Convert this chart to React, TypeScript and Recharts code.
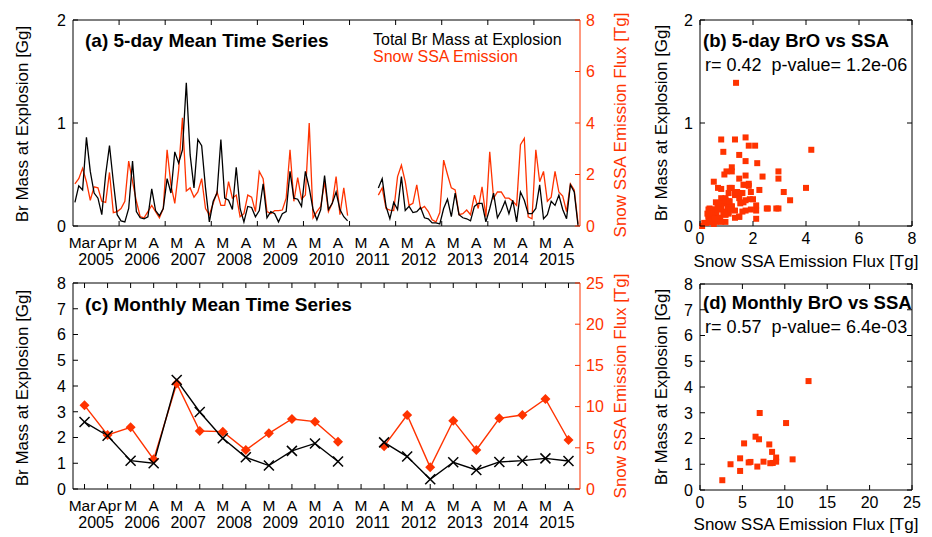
import React from 'react'
import { LineChart, Line, XAxis, YAxis, ReferenceLine, ScatterChart, Scatter } from 'recharts'

const RED = '#ff3300'
const FONT = "'Liberation Sans', Arial, Helvetica, sans-serif"

// x positions: Mar and Apr of each year 2005-2015
const monthLabels = ['Mar', 'Apr', 'M', 'A', 'M', 'A', 'M', 'A', 'M', 'A', 'M', 'A', 'M', 'A', 'M', 'A', 'M', 'A', 'M', 'A', 'M', 'A']
const yearLabels = ['2005', '2006', '2007', '2008', '2009', '2010', '2011', '2012', '2013', '2014', '2015']
const PENTADS = 6

// 5-day mean Br mass at explosion [Gg], 6 pentads per month
const brPentad: (number | null)[][] = [
  [0.23, 0.39, 0.35, 0.86, 0.53, 0.32],
  [0.27, 0.11, 0.5, 0.78, 0.43, 0.11],
  [0.05, 0.04, 0.17, 0.63, 0.14, 0.08],
  [0.07, 0.09, 0.36, 0.15, 0.1, 0.17],
  [0.46, 0.32, 0.72, 0.61, 0.74, 1.39],
  [0.69, 0.37, 0.84, 0.78, 0.37, 0.04],
  [0.24, 0.32, 0.84, 0.27, 0.25, 0.16],
  [0.57, 0.17, 0.04, 0.19, 0.18, 0.09],
  [0.15, 0.41, 0.08, 0.14, 0.12, 0.04],
  [0.12, 0.14, 0.53, 0.27, 0.26, 0.19],
  [0.53, 0.37, 0.16, 0.06, 0.16, 0.49],
  [0.16, 0.22, 0.33, 0.16, 0.09, 0.05],
  [null, null, null, null, null, null],
  [null, 0.37, 0.46, 0.19, 0.07, 0.23],
  [0.16, 0.48, 0.15, 0.19, 0.13, 0.14],
  [0.18, 0.08, 0.07, 0.03, 0.03, 0.02],
  [0.17, 0.26, 0.09, 0.32, 0.11, 0.08],
  [0.07, 0.05, 0.19, 0.22, 0.22, 0.04],
  [0.17, 0.32, 0.08, 0.15, 0.24, 0.12],
  [0.25, 0.04, 0.33, 0.25, 0.12, 0.12],
  [0.17, 0.4, 0.07, 0.11, 0.24, 0.2],
  [0.3, 0.16, 0.07, 0.4, 0.33, 0.0],
]

// 5-day snow SSA emission flux [Tg]
const ssaPentad: (number | null)[][] = [
  [1.64, 1.84, 2.24, 1.72, 1.0, 1.52],
  [1.48, 0.96, 0.92, 2.08, 0.52, 0.56],
  [0.68, 0.96, 2.52, 1.72, 0.96, 0.36],
  [0.32, 0.56, 0.8, 0.56, 0.32, 0.68],
  [2.96, 1.6, 0.88, 2.16, 4.2, 1.36],
  [1.48, 1.12, 1.32, 1.84, 0.68, 0.44],
  [0.88, 1.32, 0.8, 0.8, 1.72, 1.08],
  [1.2, 0.36, 0.48, 1.2, 1.12, 0.56],
  [2.12, 1.84, 0.56, 0.48, 0.6, 0.6],
  [0.62, 1.08, 2.96, 0.96, 1.88, 1.04],
  [1.2, 4.0, 0.32, 0.56, 0.76, 1.72],
  [0.56, 0.88, 1.92, 0.44, 1.48, 0.4],
  [null, null, null, null, null, null],
  [null, 1.2, 1.48, 0.68, 0.62, 0.6],
  [1.92, 2.36, 1.72, 0.8, 0.88, 1.6],
  [0.66, 0.76, 0.56, 0.24, 0.16, 0.52],
  [2.56, 2.0, 1.48, 1.4, 0.44, 0.48],
  [0.62, 0.44, 1.2, 0.68, 1.52, 0.36],
  [2.88, 1.08, 1.32, 1.32, 1.08, 1.08],
  [0.96, 0.8, 3.16, 3.4, 0.36, 0.28],
  [2.96, 1.72, 2.12, 0.96, 1.12, 2.12],
  [1.32, 1.16, 0.56, 1.64, 1.4, 0.08],
]

// monthly means
const brMonthly = [2.6, 2.07, 1.1, 1.0, 4.23, 2.99, 1.97, 1.23, 0.91, 1.48, 1.77, 1.07, null, 1.81, 1.26, 0.38, 1.04, 0.74, 1.05, 1.1, 1.19, 1.09]
const ssaMonthly = [10.15, 6.55, 7.49, 3.6, 12.8, 7.04, 6.96, 4.73, 6.76, 8.5, 8.17, 5.74, null, 5.2, 8.98, 2.63, 8.29, 4.73, 8.58, 8.98, 10.92, 5.95]

const pentadRows = monthLabels.flatMap((_, i) =>
  brPentad[i].map((br, k) => ({ t: i - 0.5 + (k + 0.5) / PENTADS, br, ssa: ssaPentad[i][k] }))
)
const monthRows = monthLabels.map((_, i) => ({ t: i, br: brMonthly[i], ssa: ssaMonthly[i] }))
const pentadPairs = pentadRows.filter(r => r.br != null && r.ssa != null).map(r => ({ x: r.ssa, y: r.br }))
const monthPairs = monthRows.filter(r => r.br != null && r.ssa != null).map(r => ({ x: r.ssa, y: r.br }))
const monthTicks = monthLabels.map((_, i) => i)

// layout
const TS_W = 660, TS_H = 280
const TS_M = { top: 20, right: 40, bottom: 9, left: 33 }
const Y_W = 40, X_H = 45
const TS_PW = TS_W - TS_M.left - TS_M.right - 2 * Y_W
const PH = TS_H - TS_M.top - TS_M.bottom - X_H
const SC_W = 282, SC_H = 280
const SC_M = { top: 20, right: 20, bottom: 9, left: 10 }
const SC_PW = SC_W - SC_M.left - SC_M.right - Y_W

const txt = { fontFamily: FONT, fontSize: 16 }
// the first two labels are spelled out and pushed apart a little, as in the original
const labelShift = (i: number) => (i === 0 ? -2.5 : i === 1 ? 2 : 0)

const MonthTick = (props: any) => {
  const { x, y, payload, yearMarks } = props
  const i = payload.value as number
  const step = TS_PW / monthLabels.length
  const marks = yearMarks ? (i % 2 === 1 && i < monthLabels.length - 1 ? [x + step / 2] : []) : [x]
  return (
    <g>
      {marks.map((mx: number) => (
        <g key={mx}>
          <line x1={mx} x2={mx} y1={y} y2={y - 5} stroke="#000" />
          <line x1={mx} x2={mx} y1={y - PH} y2={y - PH + 5} stroke="#000" />
        </g>
      ))}
      <text x={x + labelShift(i)} y={y + 22} textAnchor="middle" fill="#000" fontFamily={FONT} fontSize={15.5}>
        {monthLabels[i]}
      </text>
      {i % 2 === 0 && (
        <text x={x + step / 2} y={y + 39} textAnchor="middle" fill="#000" {...txt}>{yearLabels[i / 2]}</text>
      )}
    </g>
  )
}

const YTick = (props: any) => {
  const { x, y, payload, side, color, boxW } = props
  const c = color || '#000'
  if (side === 'right') {
    return (
      <g>
        <line x1={x - 5} x2={x} y1={y} y2={y} stroke={c} />
        <text x={x + 6} y={y} dy="0.36em" textAnchor="start" fill={c} {...txt}>{payload.value}</text>
      </g>
    )
  }
  return (
    <g>
      <line x1={x} x2={x + 5} y1={y} y2={y} stroke={c} />
      {boxW ? <line x1={x + boxW - 5} x2={x + boxW} y1={y} y2={y} stroke={c} /> : null}
      <text x={x - 7} y={y} dy="0.36em" textAnchor="end" fill={c} {...txt}>{payload.value}</text>
    </g>
  )
}

const XTick = (props: any) => {
  const { x, y, payload } = props
  return (
    <g>
      <line x1={x} x2={x} y1={y} y2={y - 5} stroke="#000" />
      <line x1={x} x2={x} y1={y - PH} y2={y - PH + 5} stroke="#000" />
      <text x={x} y={y + 18} textAnchor="middle" fill="#000" {...txt}>{payload.value}</text>
    </g>
  )
}

const Cross = (p: any) => {
  if (p.cy == null || p.value == null) return <g key={`c${p.index}`} />
  return (
    <g key={`c${p.index}`}>
      <line x1={p.cx - 5} x2={p.cx + 5} y1={p.cy - 5} y2={p.cy + 5} stroke="#000" strokeWidth={1.5} />
      <line x1={p.cx - 5} x2={p.cx + 5} y1={p.cy + 5} y2={p.cy - 5} stroke="#000" strokeWidth={1.5} />
    </g>
  )
}

const Diamond = (p: any) => {
  if (p.cy == null || p.value == null) return <g key={`d${p.index}`} />
  return <path key={`d${p.index}`} d={`M${p.cx},${p.cy - 5}L${p.cx + 5},${p.cy}L${p.cx},${p.cy + 5}L${p.cx - 5},${p.cy}Z`} fill={RED} />
}

const Square = (p: any) => <rect x={p.cx - 3} y={p.cy - 3} width={6} height={6} fill={RED} />

const abs = (left: number, top: number): React.CSSProperties => ({ position: 'absolute', left, top })

const HText = ({ x, y, size = 16, bold, color = '#000', children }: any) => (
  <div style={{ ...abs(x, y), transform: 'translateY(-50%)', whiteSpace: 'pre', fontFamily: FONT, fontSize: size, fontWeight: bold ? 700 : 400, color, lineHeight: `${size - 2}px` }}>
    {children}
  </div>
)

const VText = ({ x, y, color = '#000', children }: any) => (
  <div style={{ ...abs(x, y), transform: 'translate(-50%, -50%) rotate(-90deg)', whiteSpace: 'nowrap', fontFamily: FONT, fontSize: 17, color, lineHeight: 1 }}>
    {children}
  </div>
)

const CText = ({ x, y, children }: any) => (
  <div style={{ ...abs(x, y), transform: 'translate(-50%, -50%)', whiteSpace: 'nowrap', fontFamily: FONT, fontSize: 17, lineHeight: 1 }}>
    {children}
  </div>
)

function TimeSeries({ data, leftMax, leftTicks, rightMax, rightTicks, monthly }: any) {
  const w = monthly ? 1.4 : 1.3
  return (
    <LineChart width={TS_W} height={TS_H} data={data} margin={TS_M}>
      <XAxis
        dataKey="t" type="number" domain={[-0.5, monthLabels.length - 0.5]} ticks={monthTicks} interval={0}
        height={X_H} tickSize={0} tickMargin={0} tickLine={false} axisLine={{ stroke: '#000' }}
        tick={(p: any) => <MonthTick {...p} yearMarks={!monthly} />}
      />
      <YAxis
        yAxisId="left" domain={[0, leftMax]} ticks={leftTicks} interval={0} width={Y_W}
        tickSize={0} tickMargin={0} tickLine={false} axisLine={{ stroke: '#000' }}
        tick={(p: any) => <YTick {...p} side="left" />}
      />
      <YAxis
        yAxisId="right" orientation="right" domain={[0, rightMax]} ticks={rightTicks} interval={0} width={Y_W}
        tickSize={0} tickMargin={0} tickLine={false} axisLine={{ stroke: RED }}
        tick={(p: any) => <YTick {...p} side="right" color={RED} />}
      />
      <ReferenceLine yAxisId="left" y={leftMax} stroke="#000" />
      <Line
        yAxisId="right" dataKey="ssa" type="linear" stroke={RED} strokeWidth={w}
        dot={monthly ? (p: any) => <Diamond {...p} /> : false} activeDot={false} isAnimationActive={false}
      />
      <Line
        yAxisId="left" dataKey="br" type="linear" stroke="#000" strokeWidth={w}
        dot={monthly ? (p: any) => <Cross {...p} /> : false} activeDot={false} isAnimationActive={false}
      />
    </LineChart>
  )
}

function Scatterplot({ data, xMax, xTicks, yMax, yTicks }: any) {
  return (
    <ScatterChart width={SC_W} height={SC_H} margin={SC_M}>
      <XAxis
        dataKey="x" type="number" domain={[0, xMax]} ticks={xTicks} interval={0} height={X_H}
        tickSize={0} tickMargin={0} tickLine={false} axisLine={{ stroke: '#000' }}
        tick={(p: any) => <XTick {...p} />}
      />
      <YAxis
        dataKey="y" type="number" domain={[0, yMax]} ticks={yTicks} interval={0} width={Y_W}
        tickSize={0} tickMargin={0} tickLine={false} axisLine={{ stroke: '#000' }}
        tick={(p: any) => <YTick {...p} side="left" boxW={SC_PW} />}
      />
      <ReferenceLine y={yMax} stroke="#000" />
      <ReferenceLine x={xMax} stroke="#000" />
      <Scatter data={data} fill={RED} shape={(p: any) => <Square {...p} />} isAnimationActive={false} />
    </ScatterChart>
  )
}

export default function App() {
  return (
    <div style={{ position: 'absolute', left: 0, top: 0, width: 932, height: 537, background: '#fff', overflow: 'hidden' }}>
      <div style={abs(0, 0)}>
        <TimeSeries data={pentadRows} leftMax={2} leftTicks={[0, 1, 2]} rightMax={8} rightTicks={[0, 2, 4, 6, 8]} />
      </div>
      <div style={abs(0, 263)}>
        <TimeSeries data={monthRows} leftMax={8} leftTicks={[0, 1, 2, 3, 4, 5, 6, 7, 8]} rightMax={25} rightTicks={[0, 5, 10, 15, 20, 25]} monthly />
      </div>
      <div style={abs(650, 0)}>
        <Scatterplot data={pentadPairs} xMax={8} xTicks={[0, 2, 4, 6, 8]} yMax={2} yTicks={[0, 1, 2]} />
      </div>
      <div style={abs(650, 264)}>
        <Scatterplot data={monthPairs} xMax={25} xTicks={[0, 5, 10, 15, 20, 25]} yMax={8} yTicks={[0, 1, 2, 3, 4, 5, 6, 7, 8]} />
      </div>

      <HText x={85} y={40} size={19} bold>(a) 5-day Mean Time Series</HText>
      <HText x={373} y={40}>Total Br Mass at Explosion</HText>
      <HText x={373} y={57} color={RED}>Snow SSA Emission</HText>
      <VText x={22} y={124}>Br Mass at Explosion [Gg]</VText>
      <VText x={620} y={125} color={RED}>Snow SSA Emission Flux [Tg]</VText>

      <HText x={85} y={304} size={19} bold>(c) Monthly Mean Time Series</HText>
      <VText x={22} y={388}>Br Mass at Explosion [Gg]</VText>
      <VText x={620} y={386} color={RED}>Snow SSA Emission Flux [Tg]</VText>

      <HText x={703} y={41} size={18.5} bold>(b) 5-day BrO vs SSA</HText>
      <HText x={705} y={65} size={18}>{'r= 0.42  p-value= 1.2e-06'}</HText>
      <VText x={661} y={123}>Br Mass at Explosion [Gg]</VText>
      <CText x={806} y={261}>Snow SSA Emission Flux [Tg]</CText>

      <HText x={703} y={303} size={18.5} bold>(d) Monthly BrO vs SSA</HText>
      <HText x={705} y={327} size={18}>{'r= 0.57  p-value= 6.4e-03'}</HText>
      <VText x={661} y={387}>Br Mass at Explosion [Gg]</VText>
      <CText x={806} y={524}>Snow SSA Emission Flux [Tg]</CText>
    </div>
  )
}
